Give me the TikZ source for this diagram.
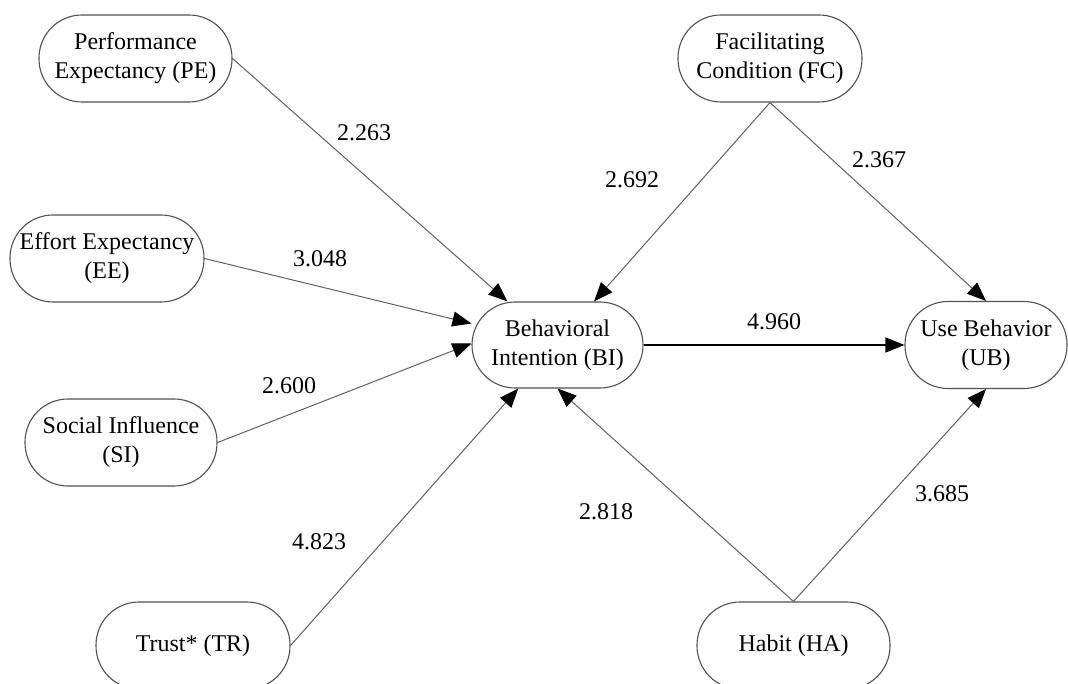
\documentclass[tikz,border=0pt]{standalone}
\usepackage{fontspec}
\setmainfont{Liberation Serif}
\definecolor{ntframe}{HTML}{505050}
\definecolor{ntline}{HTML}{606060}
\usepackage{tikz}
\usetikzlibrary{arrows.meta}

\begin{document}
\begin{tikzpicture}[x=1pt, y=-1pt,
  construct/.style={draw=ntframe, line width=1.1pt, rounded corners=43pt,
                    minimum height=87pt, inner sep=0pt, align=center,
                    font=\fontsize{24}{29}\selectfont},
  coef/.style={inner sep=0pt, font=\fontsize{24}{29}\selectfont},
  link/.style={draw=ntline, line width=1pt,
               -{Triangle[length=19pt, width=15pt, color=black]}},
]
  \useasboundingbox (0,0) rectangle (1068,684);

  % exogenous constructs
  \node[construct, minimum width=193pt] (PE) at (135.5,58.5) {Performance\\Expectancy (PE)};
  \node[construct, minimum width=194pt] (EE) at (107,258.5) {Effort Expectancy\\(EE)};
  \node[construct, minimum width=192pt] (SI) at (121,442.5) {Social Influence\\(SI)};
  \node[construct, minimum width=194pt] (TR) at (193,645.5) {Trust* (TR)};
  \node[construct, minimum width=184pt] (FC) at (770,58.5) {Facilitating\\Condition (FC)};
  \node[construct, minimum width=193pt] (HA) at (793.5,645.5) {Habit (HA)};

  % endogenous constructs
  \node[construct, minimum width=171pt, minimum height=86pt] (BI) at (557.5,345) {Behavioral\\Intention (BI)};
  \node[construct, minimum width=162pt] (UB) at (986,345) {Use Behavior\\(UB)};

  % paths
  \draw[link] (PE.east) -- (BI.139);
  \draw[link] (EE.east) -- (BI.166);
  \draw[link] (SI.east) -- (BI.179);
  \draw[link] (TR.east) -- (BI.228);
  \draw[link] (FC.south) -- (BI.50);
  \draw[link] (FC.south) -- (UB.north);
  \draw[link] (HA.north) -- (BI.south);
  \draw[link] (HA.north) -- (UB.south);
  \draw[link, draw=black, line width=1.5pt] (BI.east) -- (UB.west);

  % t-values
  \node[coef] (tPE) at (364,133) {2.263};
  \node[coef] (tEE) at (320,259) {3.048};
  \node[coef] (tSI) at (289,386) {2.600};
  \node[coef] (tTR) at (319,542) {4.823};
  \node[coef] (tFCBI) at (632,180) {2.692};
  \node[coef] (tFCUB) at (879,160) {2.367};
  \node[coef] (tBI) at (774,322) {4.960};
  \node[coef] (tHABI) at (606,512) {2.818};
  \node[coef] (tHAUB) at (942,494) {3.685};
\end{tikzpicture}
\end{document}
